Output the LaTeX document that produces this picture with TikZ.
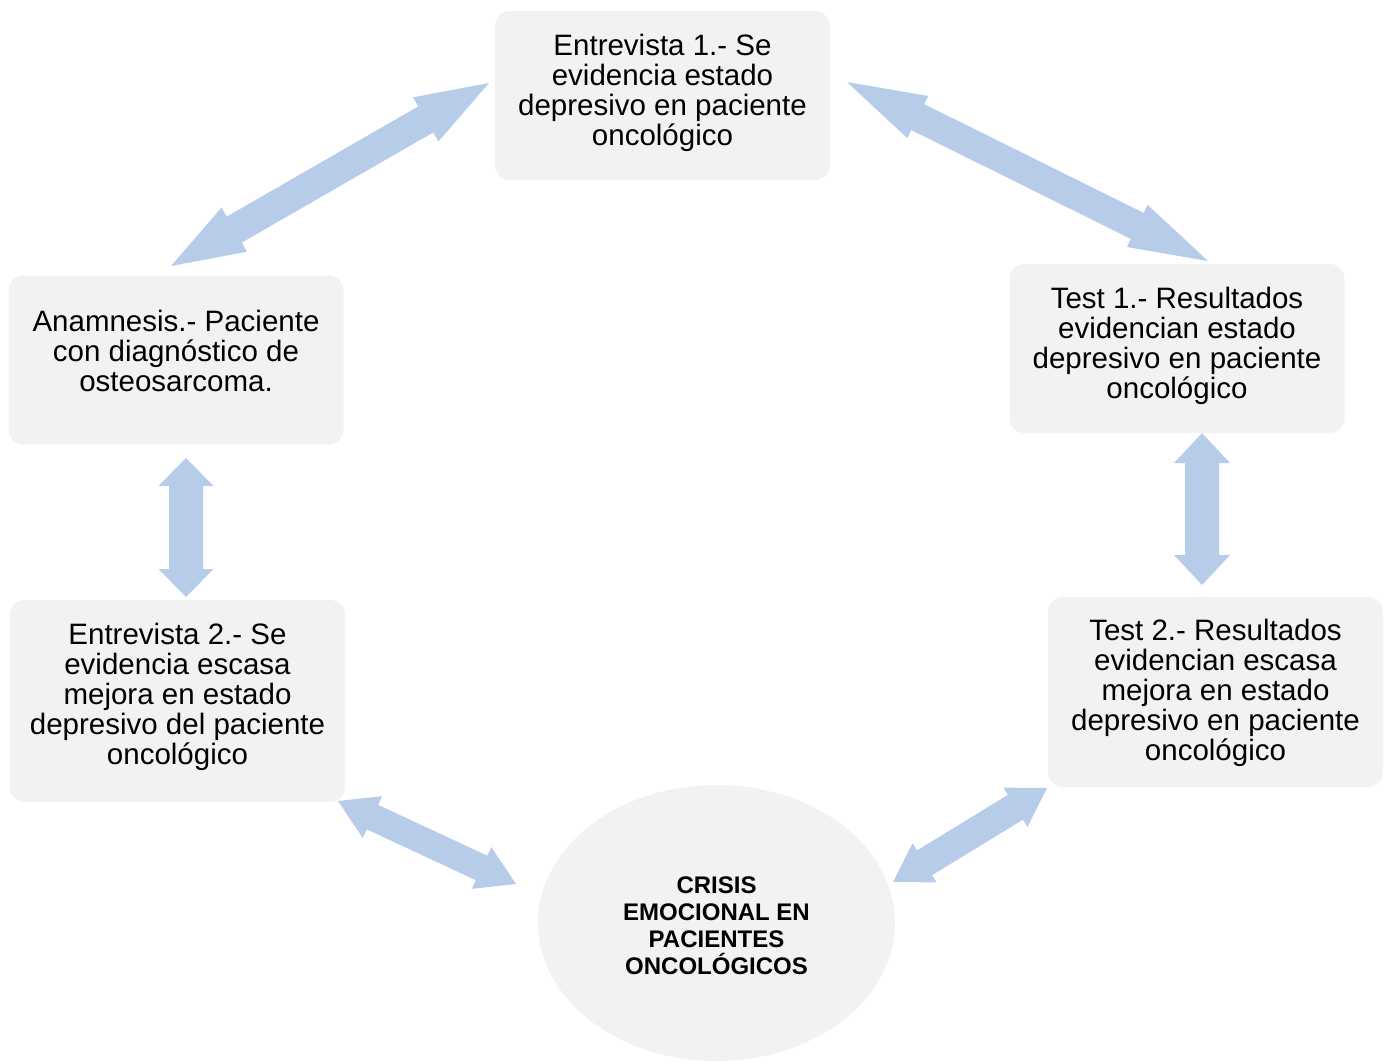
\documentclass[tikz,border=0pt]{standalone}
\usepackage{fontspec}
\setmainfont{Liberation Sans}
\usetikzlibrary{calc,shapes.geometric}
\definecolor{boxfill}{HTML}{F2F2F2}
\definecolor{arrfill}{HTML}{B7CCE8}
% #1,#2 tips; #3 half shaft width; #4 half head width; #5 head length
\newcommand\dblarrow[5]{%
  \coordinate (pa) at ($(#1)!#5!(#2)$);
  \coordinate (pb) at ($(#2)!#5!(#1)$);
  \fill[arrfill] (#1) -- ($(pa)!#4!90:(#2)$) -- ($(pa)!#3!90:(#2)$)
    -- ($(pb)!#3!-90:(#1)$) -- ($(pb)!#4!-90:(#1)$) -- (#2)
    -- ($(pb)!#4!90:(#1)$) -- ($(pb)!#3!90:(#1)$)
    -- ($(pa)!#3!-90:(#2)$) -- ($(pa)!#4!-90:(#2)$) -- cycle;}
\begin{document}
\begin{tikzpicture}[x=1pt,y=-1pt,
  box/.style={fill=boxfill, rounded corners=15pt, inner sep=0pt},
  txt/.style={inner sep=0pt, align=center, font=\fontsize{29.5}{30}\selectfont},
  crisis/.style={fill=boxfill, ellipse, inner sep=0pt,
    minimum width=357pt, minimum height=276pt},
  crtxt/.style={inner sep=0pt, align=center, font=\fontsize{24}{27}\selectfont\bfseries}]
\useasboundingbox (0,0) rectangle (1391,1061);

\node[box, minimum width=335pt, minimum height=169pt] (e1) at (662.5,95.5) {};
\node[txt] (e1t) at ($(e1)+(0,-3)$)
  {Entrevista 1.- Se\\evidencia estado\\depresivo en paciente\\oncológico};
\node[box, minimum width=335pt, minimum height=169pt] (t1) at (1177,348.5) {};
\node[txt] (t1t) at ($(t1)+(0,-3)$)
  {Test 1.- Resultados\\evidencian estado\\depresivo en paciente\\oncológico};
\node[box, minimum width=335pt, minimum height=190pt] (t2) at (1215.5,692) {};
\node[txt] (t2t) at ($(t2)+(0,1)$)
  {Test 2.- Resultados\\evidencian escasa\\mejora en estado\\depresivo en paciente\\oncológico};
\node[box, minimum width=335pt, minimum height=169pt] (an) at (176,360) {};
\node[txt] (ant) at ($(an)+(0,-9)$)
  {Anamnesis.- Paciente\\con diagnóstico de\\osteosarcoma.};
\node[box, minimum width=335pt, minimum height=202pt] (e2) at (177.5,701) {};
\node[txt] (e2t) at ($(e2)+(0,-4)$)
  {Entrevista 2.- Se\\evidencia escasa\\mejora en estado\\depresivo del paciente\\oncológico};
\node[crisis] (cr) at (716.5,923) {};
\node[crtxt] (crt) at ($(cr)+(0,3)$)
  {CRISIS\\EMOCIONAL EN\\PACIENTES\\ONCOLÓGICOS};

% arrow tip coordinates
\coordinate (a1s) at (171,266);  \coordinate (a1e) at (489,83);
\coordinate (a2s) at (847,82);   \coordinate (a2e) at (1208,261);
\coordinate (a3s) at (1202,433); \coordinate (a3e) at (1202,585);
\coordinate (a4s) at (1047,788); \coordinate (a4e) at (893,882);
\coordinate (a5s) at (516,884);  \coordinate (a5e) at (338,801);
\coordinate (a6s) at (186,458);  \coordinate (a6e) at (186,597);

\dblarrow{a1s}{a1e}{15pt}{25.5pt}{73pt}
\dblarrow{a2s}{a2e}{14.5pt}{23.5pt}{79pt}
\dblarrow{a3s}{a3e}{17pt}{28pt}{30pt}
\dblarrow{a4s}{a4e}{14.5pt}{23pt}{37pt}
\dblarrow{a5s}{a5e}{13.5pt}{23pt}{38pt}
\dblarrow{a6s}{a6e}{17pt}{27.5pt}{28pt}
\end{tikzpicture}
\end{document}
